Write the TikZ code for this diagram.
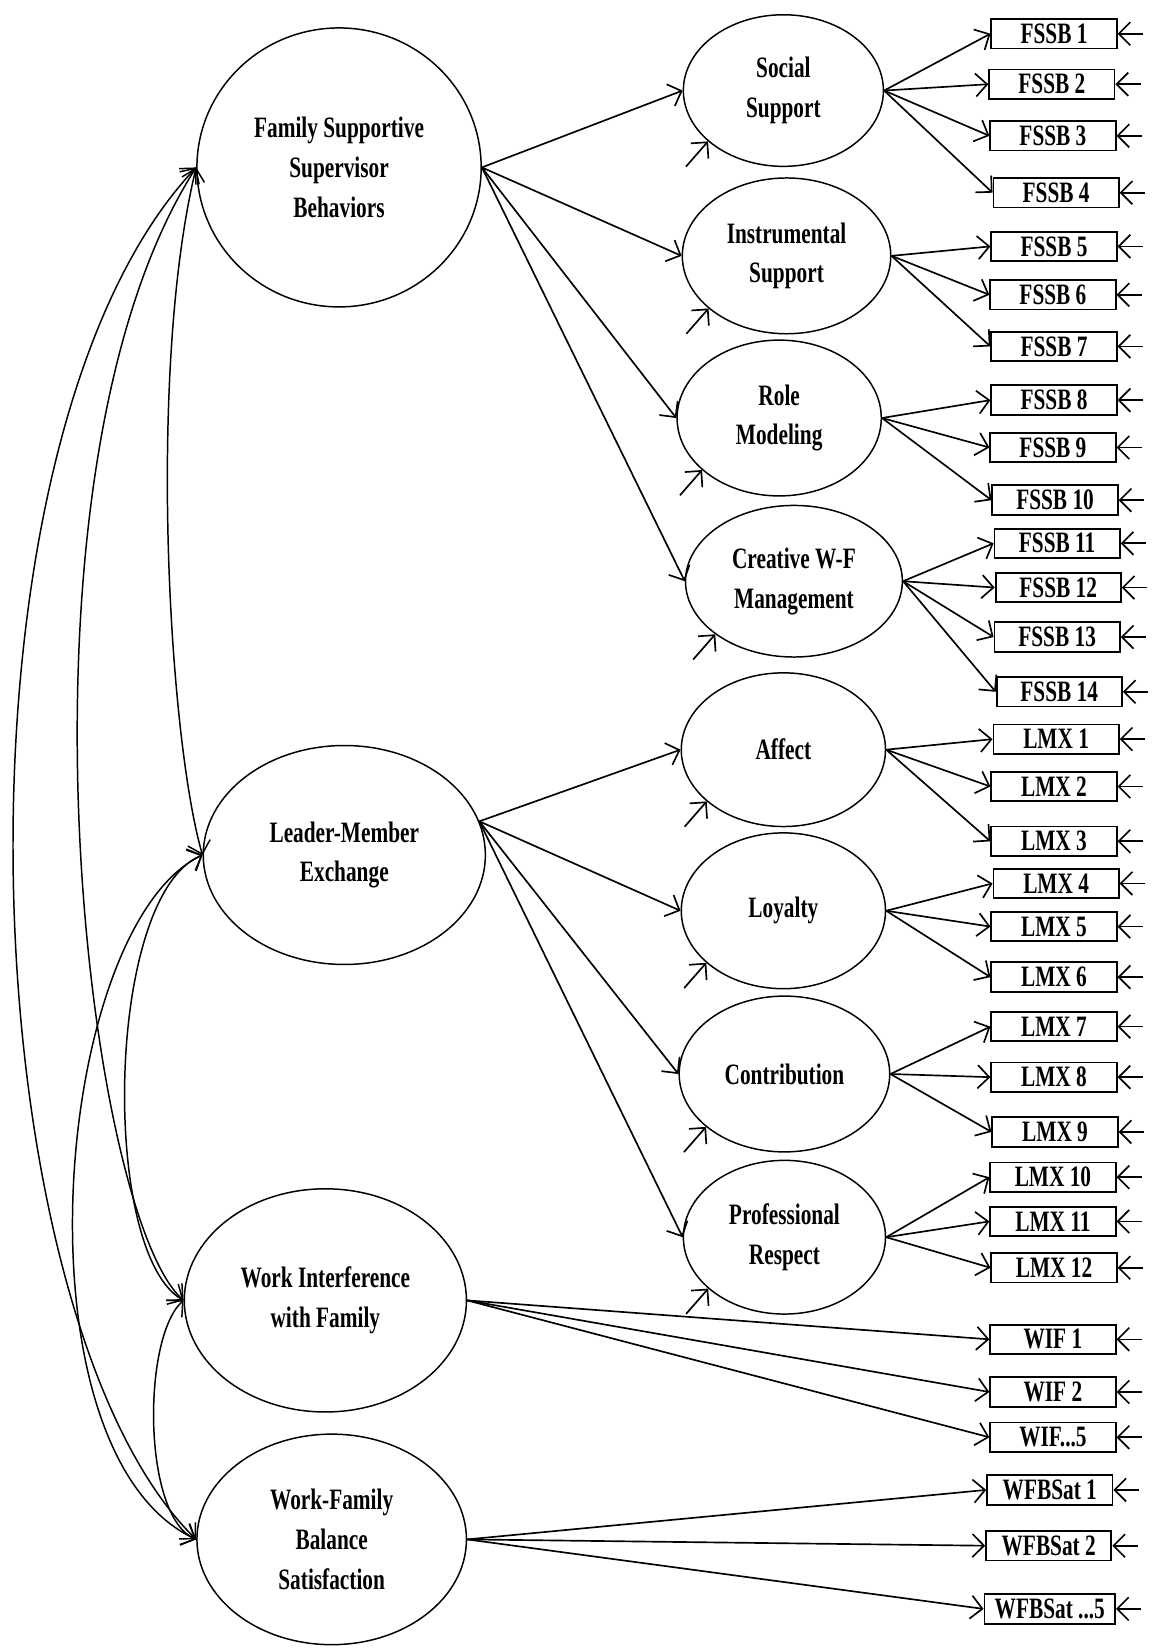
\documentclass[tikz,border=0pt]{standalone}
\usepackage{fontspec}
\newfontfamily\semfont[FakeStretch=0.72]{Liberation Serif}
\usepackage{tikz}
\usetikzlibrary{shapes.geometric,arrows.meta}

\tikzset{
  fac/.style={ellipse,draw,line width=0.8pt,inner sep=0pt,align=center,
    font=\semfont\bfseries\fontsize{16}{21.5}\selectfont},
  obs/.style={rectangle,draw,line width=1pt,inner sep=0pt,minimum width=2.38cm,minimum height=0.56cm,
    font=\semfont\bfseries\fontsize{16}{18}\selectfont},
  barb/.tip={Straight Barb[length=2.2mm,width=4.4mm]},
  ldg/.style={line width=0.9pt,-barb},
  cor/.style={line width=0.8pt,barb-barb}
}

\begin{document}
\begin{tikzpicture}[x=0.02cm,y=-0.02cm]

\useasboundingbox (0,0) rectangle (1094,1568);

\node[fac,minimum width=5.4cm,minimum height=5.3cm] (fssb) at (322,159) {Family Supportive\\Supervisor\\Behaviors};
\node[fac,minimum width=5.36cm,minimum height=4.16cm] (lmx) at (327,812) {Leader-Member\\Exchange};
\node[fac,minimum width=5.36cm,minimum height=4.24cm] (wif) at (309,1235) {Work Interference\\with Family};
\node[fac,minimum width=5.12cm,minimum height=4.0cm] (wfbs) at (315,1462) {Work-Family\\Balance\\Satisfaction};

\node[fac,minimum width=3.8cm,minimum height=2.88cm] (ss) at (744,86) {Social\\Support};
\node[fac,minimum width=3.96cm,minimum height=2.96cm] (is) at (747,243) {Instrumental\\Support};
\node[fac,minimum width=3.88cm,minimum height=2.96cm] (rm) at (740,397) {Role\\Modeling};
\node[fac,minimum width=4.12cm,minimum height=2.88cm] (cw) at (754,552) {Creative W-F\\Management};
\node[fac,minimum width=3.88cm,minimum height=2.92cm] (af) at (744,712) {Affect};
\node[fac,minimum width=3.88cm,minimum height=2.96cm] (lo) at (744,865) {Loyalty};
\node[fac,minimum width=4.0cm,minimum height=2.96cm] (co) at (745,1020) {Contribution};
\node[fac,minimum width=3.84cm,minimum height=2.92cm] (pr) at (745,1175) {Professional\\Respect};

\node[obs] (f1) at (1001,32) {FSSB 1};
\node[obs] (f2) at (999,80) {FSSB 2};
\node[obs] (f3) at (1000,129) {FSSB 3};
\node[obs] (f4) at (1003,183) {FSSB 4};
\node[obs] (f5) at (1001,234) {FSSB 5};
\node[obs] (f6) at (1000,280) {FSSB 6};
\node[obs] (f7) at (1001,329) {FSSB 7};
\node[obs] (f8) at (1001,380) {FSSB 8};
\node[obs] (f9) at (1000,425) {FSSB 9};
\node[obs] (f10) at (1002,475) {FSSB 10};
\node[obs] (f11) at (1004,516) {FSSB 11};
\node[obs] (f12) at (1005,558) {FSSB 12};
\node[obs] (f13) at (1004,605) {FSSB 13};
\node[obs] (f14) at (1006,657) {FSSB 14};
\node[obs] (l1) at (1003,702) {LMX 1};
\node[obs] (l2) at (1001,747) {LMX 2};
\node[obs] (l3) at (1001,799) {LMX 3};
\node[obs] (l4) at (1003,839) {LMX 4};
\node[obs] (l5) at (1001,880) {LMX 5};
\node[obs] (l6) at (1001,928) {LMX 6};
\node[obs] (l7) at (1001,975) {LMX 7};
\node[obs] (l8) at (1001,1023) {LMX 8};
\node[obs] (l9) at (1002,1075) {LMX 9};
\node[obs] (l10) at (1000,1118) {LMX 10};
\node[obs] (l11) at (1000,1160) {LMX 11};
\node[obs] (l12) at (1001,1204) {LMX 12};
\node[obs] (w1) at (1000,1272) {WIF 1};
\node[obs] (w2) at (1000,1322) {WIF 2};
\node[obs] (w5) at (1000,1365) {WIF...5};
\node[obs] (s1) at (997,1415) {WFBSat 1};
\node[obs] (s2) at (996,1468) {WFBSat 2};
\node[obs,minimum width=2.48cm] (s5) at (997,1528) {WFBSat ...5};

\draw[ldg] (fssb.east) -- (ss.west);
\draw[ldg] (fssb.east) -- (is.west);
\draw[ldg] (fssb.east) -- (rm.west);
\draw[ldg] (fssb.east) -- (cw.west);
\draw[ldg] (lmx.14) -- (af.west);
\draw[ldg] (lmx.14) -- (lo.west);
\draw[ldg] (lmx.14) -- (co.west);
\draw[ldg] (lmx.14) -- (pr.west);

\foreach \a/\b in {ss/f1,ss/f2,ss/f3,ss/f4,is/f5,is/f6,is/f7,rm/f8,rm/f9,rm/f10,
  cw/f11,cw/f12,cw/f13,cw/f14,af/l1,af/l2,af/l3,lo/l4,lo/l5,lo/l6,co/l7,co/l8,co/l9,
  pr/l10,pr/l11,pr/l12,wif/w1,wif/w2,wif/w5,wfbs/s1,wfbs/s2,wfbs/s5}
  \draw[ldg] (\a.east) -- (\b.west);

\foreach \n in {f1,f2,f3,f4,f5,f6,f7,f8,f9,f10,f11,f12,f13,f14,
  l1,l2,l3,l4,l5,l6,l7,l8,l9,l10,l11,l12,w1,w2,w5,s1,s2,s5} {
  \coordinate (\n-e) at ([xshift=0.48cm]\n.east);
  \draw[ldg] (\n-e) -- (\n.east);
}

\foreach \n in {ss,is,rm,cw,af,lo,co,pr} {
  \coordinate (\n-d) at ([xshift=-0.42cm,yshift=-0.48cm]\n.214);
  \draw[ldg] (\n-d) -- (\n.214);
}

\draw[cor] (fssb.west) .. controls (-60,420) and (-30,1250) .. (wfbs.west);
\draw[cor] (fssb.west) .. controls (0,450) and (80,1150) .. (wif.west);
\draw[cor] (fssb.west) .. controls (140,350) and (160,700) .. (lmx.west);
\draw[cor] (lmx.west) .. controls (50,880) and (10,1380) .. (wfbs.west);
\draw[cor] (lmx.west) .. controls (100,850) and (95,1190) .. (wif.west);
\draw[cor] (wif.west) .. controls (135,1270) and (135,1440) .. (wfbs.west);

\end{tikzpicture}
\end{document}
